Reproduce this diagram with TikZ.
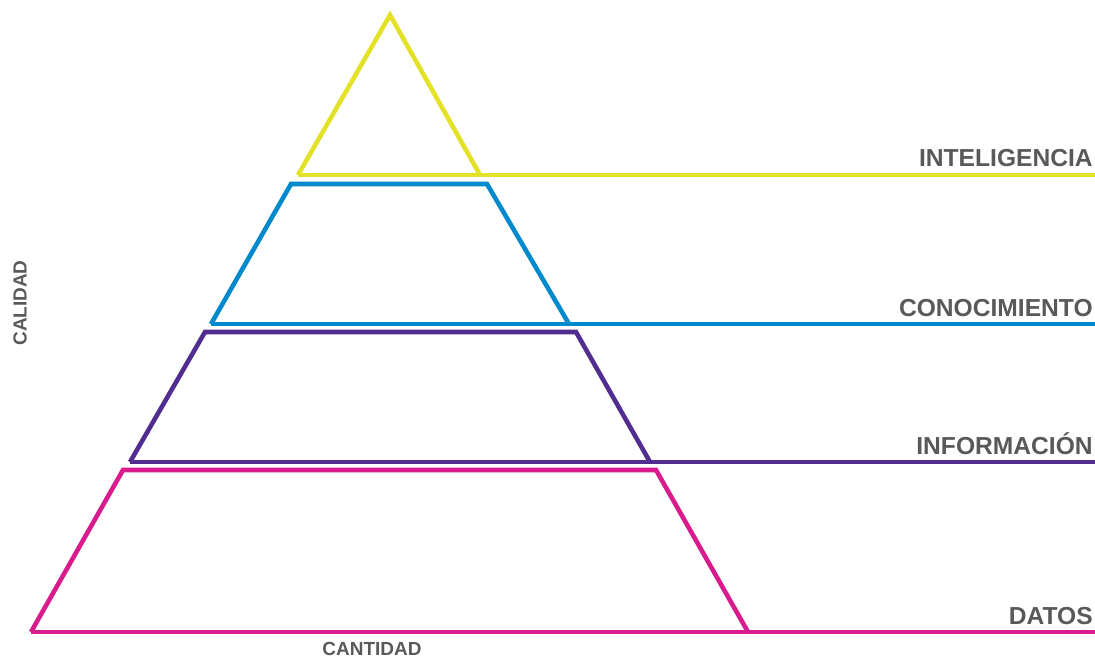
\documentclass[tikz,border=0pt]{standalone}
\usepackage{fontspec}
\setmainfont{Liberation Sans}
\usepackage{tikz}
\usetikzlibrary{positioning}

\definecolor{intyellow}{RGB}{228,226,40}
\definecolor{conblue}{RGB}{0,137,204}
\definecolor{infpurple}{RGB}{81,45,143}
\definecolor{datmagenta}{RGB}{217,28,141}
\definecolor{labelgray}{RGB}{88,89,91}

\begin{document}
\begin{tikzpicture}[
		x=0.02cm, y=-0.02cm,
		level/.style={line width=2.6pt, line join=miter},
		levellabel/.style={anchor=base east, inner sep=0pt, text=labelgray, font=\fontsize{14}{14}\selectfont\bfseries},
		axislabel/.style={inner sep=0pt, text=labelgray, font=\fontsize{10.8}{11}\selectfont\bfseries}
		]
		\useasboundingbox (0,0) rectangle (1095,659);
		
		% Inteligencia (top)
		\coordinate (intapex) at (390,15);
		\coordinate (intleft) at (298,175);
		\coordinate (intright) at (480,175);
		\coordinate (intend) at (1095,175);
		\draw[level, intyellow] (intleft) -- (intapex) -- (intright);
		\draw[level, intyellow] (intleft) -- (intend);
		\node[levellabel] (intlabel) at (1093,166) {INTELIGENCIA};
		
		% Conocimiento
		\coordinate (contl) at (291,184);
		\coordinate (contr) at (487,184);
		\coordinate (conbl) at (211,324);
		\coordinate (conbr) at (569,324);
		\coordinate (conend) at (1095,324);
		\draw[level, conblue] (conbl) -- (contl) -- (contr) -- (conbr);
		\draw[level, conblue] (conbl) -- (conend);
		\node[levellabel] (conlabel) at (1093,316) {CONOCIMIENTO};
		
		% Informacion
		\coordinate (inftl) at (205,332);
		\coordinate (inftr) at (576,332);
		\coordinate (infbl) at (130,462);
		\coordinate (infbr) at (650,462);
		\coordinate (infend) at (1095,462);
		\draw[level, infpurple] (infbl) -- (inftl) -- (inftr) -- (infbr);
		\draw[level, infpurple] (infbl) -- (infend);
		\node[levellabel] (inflabel) at (1093,454) {INFORMACIÓN};
		
		% Datos (base)
		\coordinate (dattl) at (123,470);
		\coordinate (dattr) at (656,470);
		\coordinate (datbl) at (31,632);
		\coordinate (datbr) at (748,632);
		\coordinate (datend) at (1095,632);
		\draw[level, datmagenta] (datbl) -- (dattl) -- (dattr) -- (datbr);
		\draw[level, datmagenta] (datbl) -- (datend);
		\node[levellabel] (datlabel) at (1093,624) {DATOS};
		
		% Axes
		\node[axislabel, rotate=90] (calidad) at (20,303) {CALIDAD};
		\node[axislabel] (cantidad) at (372,649) {CANTIDAD};
		
	\end{tikzpicture}
\end{document}
